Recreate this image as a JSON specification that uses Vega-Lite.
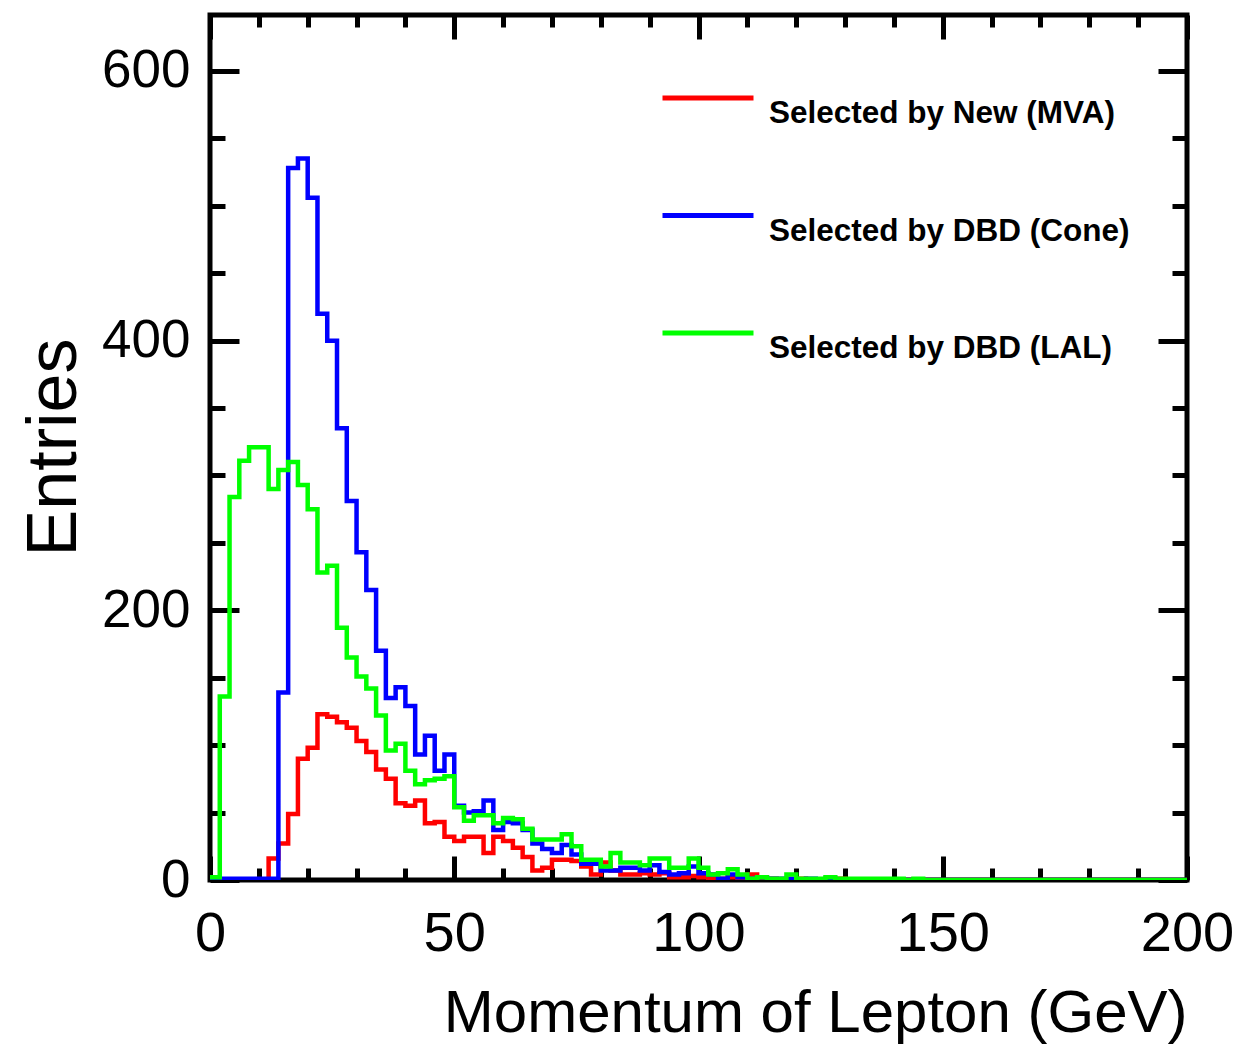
{
  "$schema": "https://vega.github.io/schema/vega-lite/v6.json",
  "width": 977,
  "height": 865,
  "autosize": {"type": "none"},
  "padding": {"left": 210, "top": 15, "right": 69, "bottom": 167},
  "background": "white",
  "config": {
    "font": "Liberation Sans",
    "view": {"stroke": "black", "strokeWidth": 5},
    "legend": {
      "orient": "none",
      "legendX": 450,
      "legendY": 35,
      "direction": "vertical",
      "symbolType": "stroke",
      "symbolSize": 8281,
      "symbolStrokeWidth": 5,
      "labelFont": "Liberation Sans",
      "labelFontSize": 31.5,
      "labelFontWeight": "bold",
      "labelColor": "black",
      "labelBaseline": "top",
      "labelOffset": 13,
      "labelLimit": 0,
      "rowPadding": 37.5,
      "padding": 0
    }
  },
  "datasets": {
    "mva": [
      {"x":0,"n":0},{"x":2,"n":0},{"x":4,"n":0},{"x":6,"n":0},{"x":8,"n":0},{"x":10,"n":0},{"x":12,"n":16},{"x":14,"n":27},{"x":16,"n":49},{"x":18,"n":90},
      {"x":20,"n":98},{"x":22,"n":123},{"x":24,"n":121},{"x":26,"n":117},{"x":28,"n":113},{"x":30,"n":103},{"x":32,"n":95},{"x":34,"n":82},{"x":36,"n":75},{"x":38,"n":57},
      {"x":40,"n":55},{"x":42,"n":59},{"x":44,"n":42},{"x":46,"n":43},{"x":48,"n":32},{"x":50,"n":29},{"x":52,"n":32},{"x":54,"n":32},{"x":56,"n":20},{"x":58,"n":32},
      {"x":60,"n":29},{"x":62,"n":24},{"x":64,"n":17},{"x":66,"n":7},{"x":68,"n":9},{"x":70,"n":15},{"x":72,"n":15},{"x":74,"n":14},{"x":76,"n":10},{"x":78,"n":4},
      {"x":80,"n":13},{"x":82,"n":7},{"x":84,"n":4},{"x":86,"n":4},{"x":88,"n":5},{"x":90,"n":4},{"x":92,"n":5},{"x":94,"n":2},{"x":96,"n":2},{"x":98,"n":3},
      {"x":100,"n":2},{"x":102,"n":1},{"x":104,"n":1},{"x":106,"n":2},{"x":108,"n":1},{"x":110,"n":4},{"x":112,"n":1},{"x":114,"n":1},{"x":116,"n":0},{"x":118,"n":0},
      {"x":120,"n":1},{"x":122,"n":0},{"x":124,"n":0},{"x":126,"n":0},{"x":128,"n":1},{"x":130,"n":0},{"x":132,"n":0},{"x":134,"n":0},{"x":136,"n":0},{"x":138,"n":0},
      {"x":140,"n":0},{"x":142,"n":0},{"x":144,"n":0},{"x":146,"n":0},{"x":148,"n":0},{"x":150,"n":0},{"x":152,"n":0},{"x":154,"n":0},{"x":156,"n":0},{"x":158,"n":0},
      {"x":160,"n":0},{"x":162,"n":0},{"x":164,"n":0},{"x":166,"n":0},{"x":168,"n":0},{"x":170,"n":0},{"x":172,"n":0},{"x":174,"n":0},{"x":176,"n":0},{"x":178,"n":0},
      {"x":180,"n":0},{"x":182,"n":0},{"x":184,"n":0},{"x":186,"n":0},{"x":188,"n":0},{"x":190,"n":0},{"x":192,"n":0},{"x":194,"n":0},{"x":196,"n":0},{"x":198,"n":0},
      {"x":200,"n":0}
    ],
    "cone": [
      {"x":0,"n":1},{"x":2,"n":1},{"x":4,"n":1},{"x":6,"n":1},{"x":8,"n":1},{"x":10,"n":1},{"x":12,"n":1},{"x":14,"n":139},{"x":16,"n":528},{"x":18,"n":535},
      {"x":20,"n":506},{"x":22,"n":420},{"x":24,"n":400},{"x":26,"n":335},{"x":28,"n":281},{"x":30,"n":243},{"x":32,"n":215},{"x":34,"n":170},{"x":36,"n":135},{"x":38,"n":143},
      {"x":40,"n":129},{"x":42,"n":93},{"x":44,"n":107},{"x":46,"n":81},{"x":48,"n":93},{"x":50,"n":55},{"x":52,"n":50},{"x":54,"n":51},{"x":56,"n":59},{"x":58,"n":37},
      {"x":60,"n":43},{"x":62,"n":42},{"x":64,"n":37},{"x":66,"n":27},{"x":68,"n":23},{"x":70,"n":20},{"x":72,"n":26},{"x":74,"n":19},{"x":76,"n":12},{"x":78,"n":12},
      {"x":80,"n":7},{"x":82,"n":7},{"x":84,"n":9},{"x":86,"n":9},{"x":88,"n":7},{"x":90,"n":11},{"x":92,"n":6},{"x":94,"n":4},{"x":96,"n":5},{"x":98,"n":10},
      {"x":100,"n":5},{"x":102,"n":4},{"x":104,"n":1},{"x":106,"n":4},{"x":108,"n":2},{"x":110,"n":1},{"x":112,"n":2},{"x":114,"n":1},{"x":116,"n":1},{"x":118,"n":1},
      {"x":120,"n":0},{"x":122,"n":1},{"x":124,"n":0},{"x":126,"n":1},{"x":128,"n":0},{"x":130,"n":0},{"x":132,"n":0},{"x":134,"n":0},{"x":136,"n":0},{"x":138,"n":0},
      {"x":140,"n":0},{"x":142,"n":0},{"x":144,"n":0},{"x":146,"n":0},{"x":148,"n":0},{"x":150,"n":0},{"x":152,"n":0},{"x":154,"n":0},{"x":156,"n":0},{"x":158,"n":0},
      {"x":160,"n":0},{"x":162,"n":0},{"x":164,"n":0},{"x":166,"n":0},{"x":168,"n":0},{"x":170,"n":0},{"x":172,"n":0},{"x":174,"n":0},{"x":176,"n":0},{"x":178,"n":0},
      {"x":180,"n":0},{"x":182,"n":0},{"x":184,"n":0},{"x":186,"n":0},{"x":188,"n":0},{"x":190,"n":0},{"x":192,"n":0},{"x":194,"n":0},{"x":196,"n":0},{"x":198,"n":0},
      {"x":200,"n":0}
    ],
    "lal": [
      {"x":0,"n":2},{"x":2,"n":136},{"x":4,"n":284},{"x":6,"n":311},{"x":8,"n":321},{"x":10,"n":321},{"x":12,"n":290},{"x":14,"n":304},{"x":16,"n":310},{"x":18,"n":293},
      {"x":20,"n":275},{"x":22,"n":228},{"x":24,"n":233},{"x":26,"n":187},{"x":28,"n":165},{"x":30,"n":151},{"x":32,"n":142},{"x":34,"n":122},{"x":36,"n":96},{"x":38,"n":101},
      {"x":40,"n":81},{"x":42,"n":71},{"x":44,"n":74},{"x":46,"n":75},{"x":48,"n":77},{"x":50,"n":54},{"x":52,"n":44},{"x":54,"n":48},{"x":56,"n":48},{"x":58,"n":42},
      {"x":60,"n":46},{"x":62,"n":45},{"x":64,"n":38},{"x":66,"n":30},{"x":68,"n":30},{"x":70,"n":30},{"x":72,"n":34},{"x":74,"n":25},{"x":76,"n":15},{"x":78,"n":15},
      {"x":80,"n":10},{"x":82,"n":20},{"x":84,"n":13},{"x":86,"n":13},{"x":88,"n":11},{"x":90,"n":16},{"x":92,"n":16},{"x":94,"n":9},{"x":96,"n":9},{"x":98,"n":16},
      {"x":100,"n":9},{"x":102,"n":4},{"x":104,"n":5},{"x":106,"n":8},{"x":108,"n":4},{"x":110,"n":1},{"x":112,"n":2},{"x":114,"n":1},{"x":116,"n":1},{"x":118,"n":4},
      {"x":120,"n":1},{"x":122,"n":1},{"x":124,"n":1},{"x":126,"n":2},{"x":128,"n":1},{"x":130,"n":1},{"x":132,"n":1},{"x":134,"n":1},{"x":136,"n":1},{"x":138,"n":1},
      {"x":140,"n":1},{"x":142,"n":0},{"x":144,"n":1},{"x":146,"n":0},{"x":148,"n":0},{"x":150,"n":0},{"x":152,"n":0},{"x":154,"n":0},{"x":156,"n":0},{"x":158,"n":0},
      {"x":160,"n":0},{"x":162,"n":0},{"x":164,"n":0},{"x":166,"n":0},{"x":168,"n":0},{"x":170,"n":0},{"x":172,"n":0},{"x":174,"n":0},{"x":176,"n":0},{"x":178,"n":0},
      {"x":180,"n":0},{"x":182,"n":0},{"x":184,"n":0},{"x":186,"n":0},{"x":188,"n":0},{"x":190,"n":0},{"x":192,"n":0},{"x":194,"n":0},{"x":196,"n":0},{"x":198,"n":0},
      {"x":200,"n":0}
    ]
  },
  "layer": [
    {
      "data": {"name": "mva"},
      "mark": {"type": "line", "interpolate": "step-after", "strokeWidth": 4.5, "strokeJoin": "miter", "strokeCap": "butt", "clip": true},
      "encoding": {
        "x": {
          "field": "x", "type": "quantitative",
          "scale": {"domain": [0, 200], "nice": false, "zero": false},
          "axis": {
            "orient": "bottom",
            "values": [0,10,20,30,40,50,60,70,80,90,100,110,120,130,140,150,160,170,180,190,200],
            "tickSize": {"condition": {"test": "datum.value % 50 === 0", "value": -24}, "value": -12},
            "tickWidth": 5, "tickColor": "black", "domain": false, "grid": false,
            "labelExpr": "datum.value % 50 === 0 ? datum.label : ''",
            "labelFont": "Liberation Sans", "labelFontSize": 56, "labelColor": "black",
            "labelPadding": 50, "labelFlush": false, "labelOverlap": false, "labelBaseline": "top",
            "title": "Momentum of Lepton (GeV)",
            "titleFont": "Liberation Sans", "titleFontSize": 60, "titleFontWeight": "normal", "titleColor": "black",
            "titleAlign": "right", "titleAnchor": "end", "titleX": 977, "titleY": 151, "titleBaseline": "alphabetic"
          }
        },
        "y": {
          "field": "n", "type": "quantitative",
          "scale": {"domain": [0, 641.5], "nice": false},
          "axis": {
            "orient": "left",
            "values": [0,50,100,150,200,250,300,350,400,450,500,550,600],
            "tickSize": {"condition": {"test": "datum.value % 200 === 0", "value": -29}, "value": -15},
            "tickWidth": 5, "tickColor": "black", "domain": false, "grid": false,
            "labelExpr": "datum.value % 200 === 0 ? datum.label : ''",
            "labelFont": "Liberation Sans", "labelFontSize": 53, "labelColor": "black",
            "labelPadding": 49, "labelFlush": false, "labelOverlap": false, "labelBaseline": "middle",
            "title": "Entries",
            "titleFont": "Liberation Sans", "titleFontSize": 70, "titleFontWeight": "normal", "titleColor": "black",
            "titleAngle": -90, "titleX": -135, "titleY": 432, "titleAlign": "center", "titleBaseline": "alphabetic"
          }
        },
        "color": {
          "datum": "Selected by New (MVA)",
          "title": null,
          "scale": {"domain": ["Selected by New (MVA)", "Selected by DBD (Cone)", "Selected by DBD (LAL)"], "range": ["#ff0000", "#0000ff", "#00ff00"]}
        }
      }
    },
    {
      "data": {"name": "cone"},
      "mark": {"type": "line", "interpolate": "step-after", "strokeWidth": 4.5, "strokeJoin": "miter", "strokeCap": "butt", "clip": true},
      "encoding": {
        "x": {"field": "x", "type": "quantitative", "axis": null},
        "y": {"field": "n", "type": "quantitative", "axis": null},
        "color": {"datum": "Selected by DBD (Cone)", "title": null}
      }
    },
    {
      "data": {"name": "lal"},
      "mark": {"type": "line", "interpolate": "step-after", "strokeWidth": 4.5, "strokeJoin": "miter", "strokeCap": "butt", "clip": true},
      "encoding": {
        "x": {"field": "x", "type": "quantitative", "axis": null},
        "y": {"field": "n", "type": "quantitative", "axis": null},
        "color": {"datum": "Selected by DBD (LAL)", "title": null}
      }
    },
    {
      "data": {"name": "lal"},
      "mark": {"type": "line", "opacity": 0},
      "encoding": {
        "x": {
          "field": "x", "type": "quantitative",
          "axis": {
            "orient": "top",
            "values": [0,10,20,30,40,50,60,70,80,90,100,110,120,130,140,150,160,170,180,190,200],
            "tickSize": {"condition": {"test": "datum.value % 50 === 0", "value": -24}, "value": -12},
            "tickWidth": 5, "tickColor": "black", "domain": false, "grid": false, "labels": false, "title": null
          }
        },
        "y": {
          "field": "n", "type": "quantitative",
          "axis": {
            "orient": "right",
            "values": [0,50,100,150,200,250,300,350,400,450,500,550,600],
            "tickSize": {"condition": {"test": "datum.value % 200 === 0", "value": -29}, "value": -15},
            "tickWidth": 5, "tickColor": "black", "domain": false, "grid": false, "labels": false, "title": null
          }
        }
      }
    }
  ],
  "resolve": {"axis": {"x": "independent", "y": "independent"}}
}
